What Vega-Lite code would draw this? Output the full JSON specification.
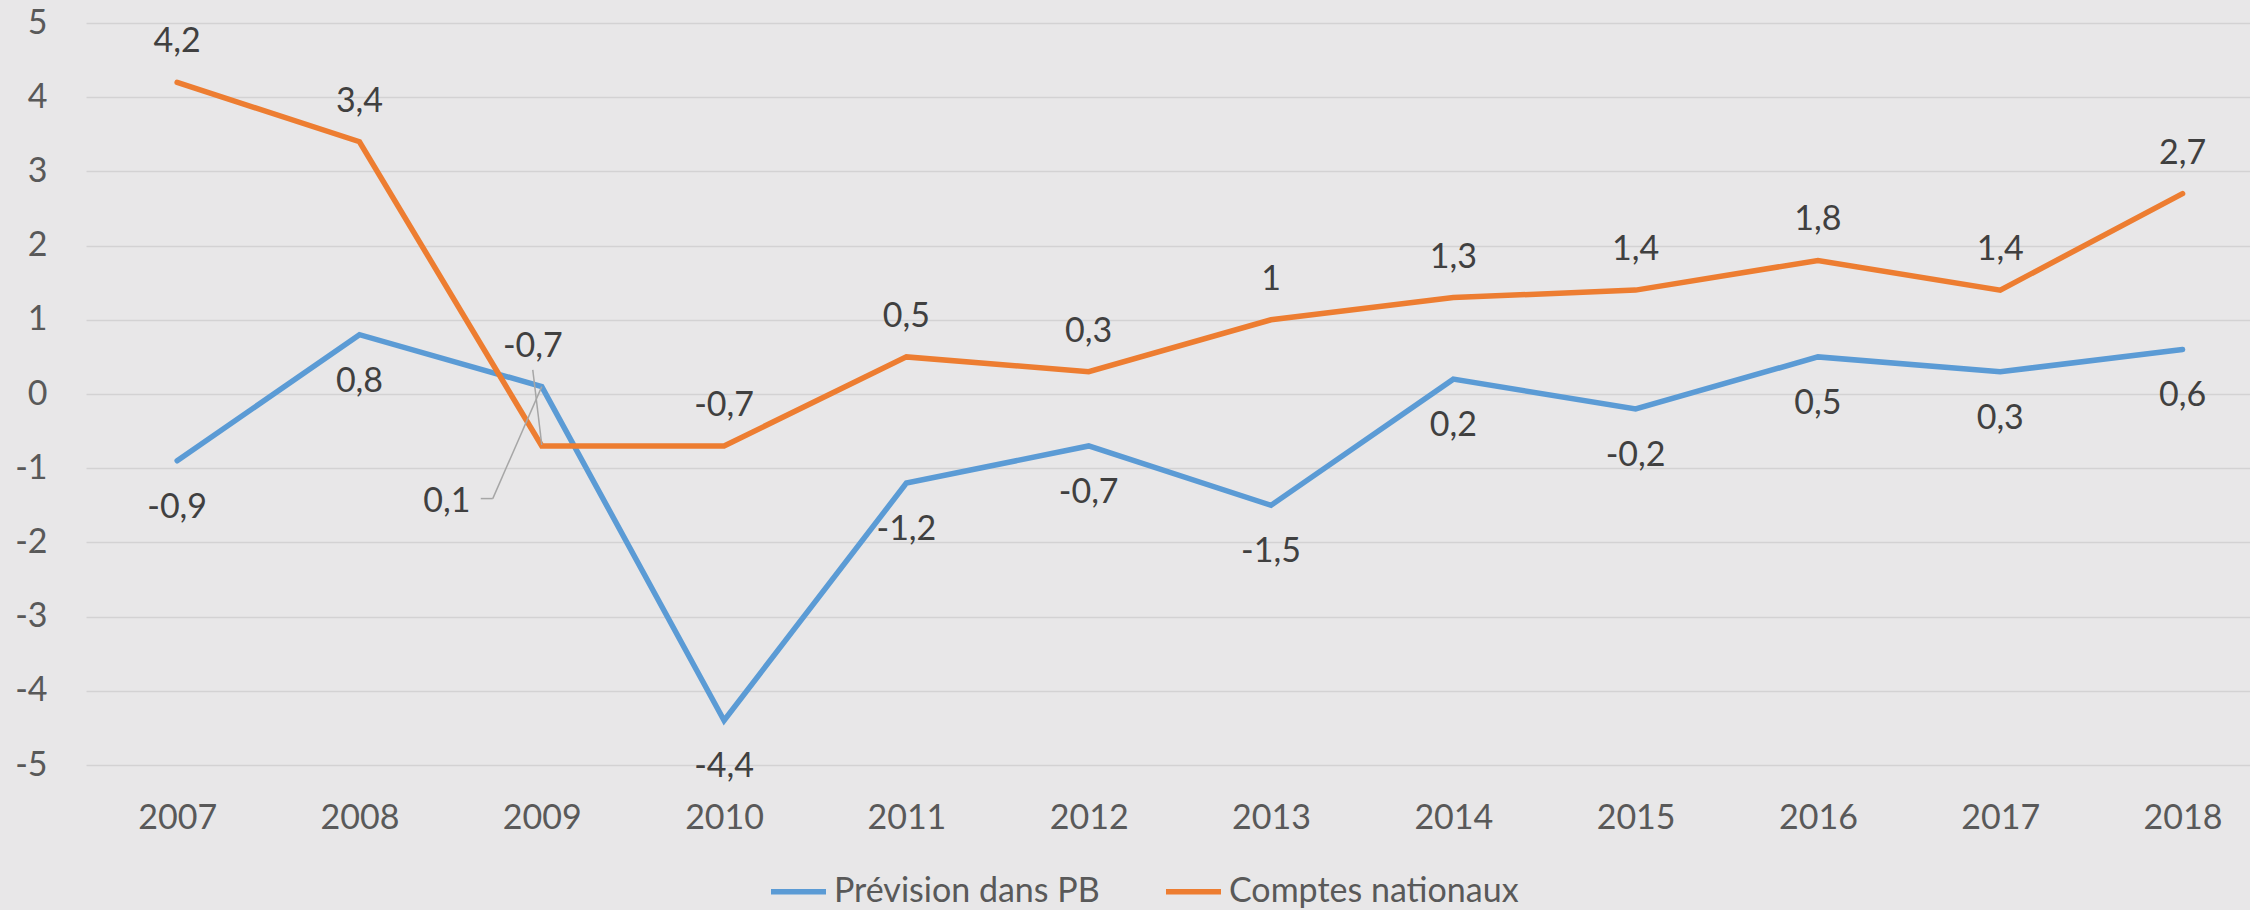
{
  "$schema": "https://vega.github.io/schema/vega-lite/v6.json",
  "width": 2164,
  "height": 742,
  "autosize": {"type": "none"},
  "padding": {"left": 86, "top": 23, "right": 0, "bottom": 145},
  "background": "#e8e7e8",
  "config": {
    "locale": {
      "number": {"decimal": ",", "thousands": " ", "grouping": [3], "currency": ["", " €"], "minus": "-"}
    },
    "view": {"stroke": null},
    "font": "Lato",
    "text": {"font": "Lato"}
  },
  "data": {
    "values": [
      {"year": 2007, "series": "Prévision dans PB", "value": -0.9},
      {"year": 2008, "series": "Prévision dans PB", "value": 0.8},
      {"year": 2009, "series": "Prévision dans PB", "value": 0.1},
      {"year": 2010, "series": "Prévision dans PB", "value": -4.4},
      {"year": 2011, "series": "Prévision dans PB", "value": -1.2},
      {"year": 2012, "series": "Prévision dans PB", "value": -0.7},
      {"year": 2013, "series": "Prévision dans PB", "value": -1.5},
      {"year": 2014, "series": "Prévision dans PB", "value": 0.2},
      {"year": 2015, "series": "Prévision dans PB", "value": -0.2},
      {"year": 2016, "series": "Prévision dans PB", "value": 0.5},
      {"year": 2017, "series": "Prévision dans PB", "value": 0.3},
      {"year": 2018, "series": "Prévision dans PB", "value": 0.6},
      {"year": 2007, "series": "Comptes nationaux", "value": 4.2},
      {"year": 2008, "series": "Comptes nationaux", "value": 3.4},
      {"year": 2009, "series": "Comptes nationaux", "value": -0.7},
      {"year": 2010, "series": "Comptes nationaux", "value": -0.7},
      {"year": 2011, "series": "Comptes nationaux", "value": 0.5},
      {"year": 2012, "series": "Comptes nationaux", "value": 0.3},
      {"year": 2013, "series": "Comptes nationaux", "value": 1},
      {"year": 2014, "series": "Comptes nationaux", "value": 1.3},
      {"year": 2015, "series": "Comptes nationaux", "value": 1.4},
      {"year": 2016, "series": "Comptes nationaux", "value": 1.8},
      {"year": 2017, "series": "Comptes nationaux", "value": 1.4},
      {"year": 2018, "series": "Comptes nationaux", "value": 2.7}
    ]
  },
  "encoding": {
    "x": {
      "field": "year",
      "type": "quantitative",
      "scale": {"domain": [2006.5, 2018.37], "nice": false, "zero": false},
      "axis": {
        "values": [2007, 2008, 2009, 2010, 2011, 2012, 2013, 2014, 2015, 2016, 2017, 2018],
        "format": "d",
        "grid": false,
        "domain": false,
        "ticks": false,
        "labelFontSize": 34,
        "labelFont": "Lato",
        "labelColor": "#595959",
        "labelPadding": 36,
        "title": null
      }
    },
    "y": {
      "field": "value",
      "type": "quantitative",
      "scale": {"domain": [-5, 5], "nice": false, "zero": false},
      "axis": {
        "values": [-5, -4, -3, -2, -1, 0, 1, 2, 3, 4, 5],
        "format": "d",
        "grid": true,
        "gridColor": "#d3d2d3",
        "gridWidth": 1.5,
        "domain": false,
        "ticks": false,
        "labelFontSize": 34,
        "labelFont": "Lato",
        "labelColor": "#595959",
        "labelPadding": 39,
        "title": null
      }
    }
  },
  "layer": [
    {
      "mark": {"type": "line", "strokeWidth": 5.5, "strokeCap": "round"},
      "encoding": {
        "color": {
          "field": "series",
          "type": "nominal",
          "sort": ["Prévision dans PB", "Comptes nationaux"],
          "scale": {"domain": ["Prévision dans PB", "Comptes nationaux"], "range": ["#5b9bd5", "#ed7d31"]},
          "legend": {
            "orient": "none",
            "legendX": 682,
            "legendY": 838,
            "direction": "horizontal",
            "title": null,
            "symbolType": "stroke",
            "symbolSize": 3025,
            "symbolStrokeWidth": 5.5,
            "labelFontSize": 34,
            "labelFont": "Lato",
            "labelColor": "#595959",
            "labelOffset": 5,
            "columnPadding": 55,
            "labelLimit": 600
          }
        }
      }
    },
    {
      "transform": [{"filter": "datum.series === 'Comptes nationaux' && datum.year !== 2009"}],
      "mark": {"type": "text", "dy": -30, "baseline": "alphabetic", "fontSize": 34, "color": "#404040"},
      "encoding": {"text": {"field": "value", "type": "quantitative", "format": ".1~f"}}
    },
    {
      "transform": [{"filter": "datum.series === 'Prévision dans PB' && datum.year !== 2009"}],
      "mark": {"type": "text", "dy": 57, "baseline": "alphabetic", "fontSize": 34, "color": "#404040"},
      "encoding": {"text": {"field": "value", "type": "quantitative", "format": ".1~f"}}
    },
    {
      "transform": [{"filter": "datum.series === 'Comptes nationaux' && datum.year === 2009"}],
      "mark": {"type": "text", "dx": -9, "dy": -89, "baseline": "alphabetic", "fontSize": 34, "color": "#404040"},
      "encoding": {"text": {"field": "value", "type": "quantitative", "format": ".1~f"}}
    },
    {
      "transform": [{"filter": "datum.series === 'Prévision dans PB' && datum.year === 2009"}],
      "mark": {"type": "text", "dx": -95, "dy": 125, "baseline": "alphabetic", "fontSize": 34, "color": "#404040"},
      "encoding": {"text": {"field": "value", "type": "quantitative", "format": ".1~f"}}
    },
    {
      "transform": [{"filter": "datum.series === 'Comptes nationaux' && datum.year === 2009"}],
      "mark": {"type": "rule", "color": "#a6a6a6", "strokeWidth": 1.5, "yOffset": -1, "x2Offset": -9, "y2Offset": -76},
      "encoding": {"x2": {"field": "year"}, "y2": {"field": "value"}}
    },
    {
      "transform": [{"filter": "datum.series === 'Prévision dans PB' && datum.year === 2009"}],
      "mark": {"type": "rule", "color": "#a6a6a6", "strokeWidth": 1.5, "x2Offset": -49, "y2Offset": 112},
      "encoding": {"x2": {"field": "year"}, "y2": {"field": "value"}}
    },
    {
      "transform": [{"filter": "datum.series === 'Prévision dans PB' && datum.year === 2009"}],
      "mark": {"type": "rule", "color": "#a6a6a6", "strokeWidth": 1.5, "xOffset": -49, "yOffset": 112, "x2Offset": -61, "y2Offset": 112},
      "encoding": {"x2": {"field": "year"}, "y2": {"field": "value"}}
    }
  ]
}
